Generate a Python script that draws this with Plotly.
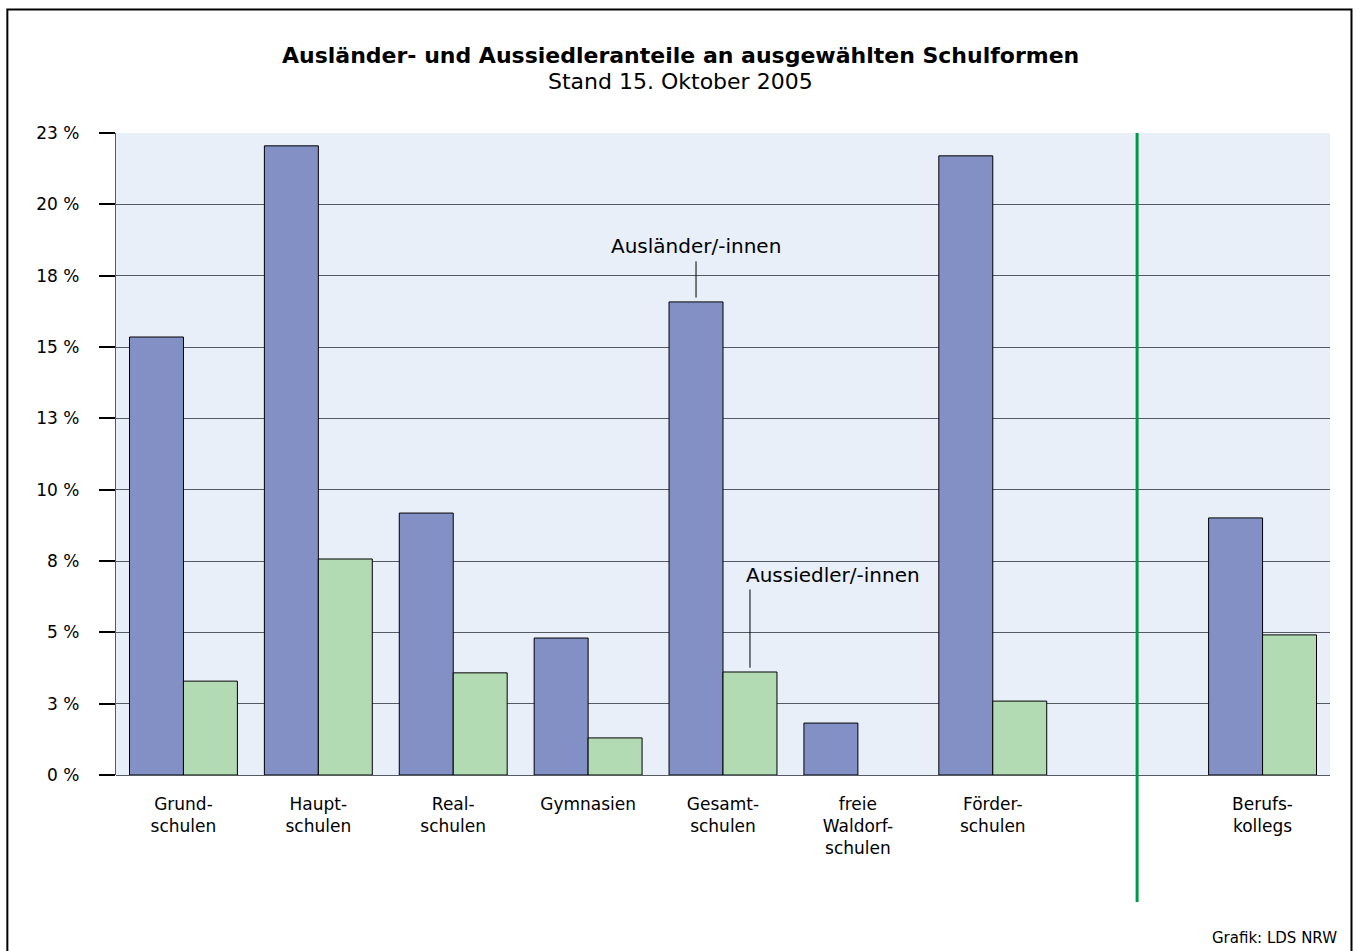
import plotly.graph_objects as go

# ---- data ----
categories = ["Grund-<br>schulen", "Haupt-<br>schulen", "Real-<br>schulen", "Gymnasien",
              "Gesamt-<br>schulen", "freie<br>Waldorf-<br>schulen", "Förder-<br>schulen", " ",
              "Berufs-<br>kollegs"]
auslaender = [15.35, 22.05, 9.18, 4.80, 16.58, 1.82, 21.70, None, 9.01]
aussiedler = [3.29, 7.57, 3.58, 1.30, 3.61, None, 2.59, None, 4.91]
tick_vals = [0, 2.5, 5, 7.5, 10, 12.5, 15, 17.5, 20, 22.5]
tick_text = ["0 %", "3 %", "5 %", "8 %", "10 %", "13 %", "15 %", "18 %", "20 %", "23 %"]

FONT = "DejaVu Sans"
BLUE = "#8290c6"
GREEN = "#b3dbb3"

fig = go.Figure()
fig.add_trace(go.Bar(x=categories, y=auslaender, name="Ausländer/-innen",
                     marker=dict(color=BLUE, line=dict(color="black", width=1))))
fig.add_trace(go.Bar(x=categories, y=aussiedler, name="Aussiedler/-innen",
                     marker=dict(color=GREEN, line=dict(color="black", width=1))))

# label positions derived from Gesamtschulen bars (index 4)
gi = 4
fig.add_shape(type="line", xref="x", yref="y", x0=gi - 0.2, x1=gi - 0.2,
              y0=auslaender[gi] + 0.15, y1=18.0, line=dict(color="black", width=1))
fig.add_annotation(x=gi - 0.2, y=18.0, xref="x", yref="y", text="Ausländer/-innen",
                   showarrow=False, yanchor="bottom", xanchor="center", yshift=1,
                   font=dict(family=FONT, size=20, color="black"))
fig.add_shape(type="line", xref="x", yref="y", x0=gi + 0.2, x1=gi + 0.2,
              y0=aussiedler[gi] + 0.15, y1=6.5, line=dict(color="black", width=1))
fig.add_annotation(x=gi + 0.2, y=6.5, xref="x", yref="y", text="Aussiedler/-innen",
                   showarrow=False, yanchor="bottom", xanchor="left", xshift=-6, yshift=1,
                   font=dict(family=FONT, size=20, color="black"))

# green separator line
fig.add_shape(type="line", xref="x", yref="paper", x0=7.07, x1=7.07, y0=-0.198, y1=1.0,
              line=dict(color="#00994a", width=3))

# outer frame
fig.add_shape(type="rect", xref="paper", yref="paper", x0=-0.0895, x1=1.0177,
              y0=-0.30, y1=1.1925, line=dict(color="black", width=2), fillcolor="rgba(0,0,0,0)")

# titles
fig.add_annotation(x=0.4646, y=1.12, xref="paper", yref="paper", xanchor="center", yanchor="middle",
                   text="<b>Ausländer- und Aussiedleranteile an ausgewählten Schulformen</b>",
                   showarrow=False, font=dict(family=FONT, size=22, color="black"))
fig.add_annotation(x=0.4646, y=1.0795, xref="paper", yref="paper", xanchor="center", yanchor="middle",
                   text="Stand 15. Oktober 2005",
                   showarrow=False, font=dict(family=FONT, size=22, color="black"))
fig.add_annotation(x=1.0074, y=-0.254, xref="paper", yref="paper", xanchor="right", yanchor="middle",
                   text="Grafik: LDS NRW", showarrow=False,
                   font=dict(family=FONT, size=15, color="black"))

fig.update_layout(
    width=1361, height=951,
    margin=dict(l=116, r=31, t=133, b=176),
    paper_bgcolor="white", plot_bgcolor="#e8eff9",
    barmode="group", bargap=0.2, bargroupgap=0,
    showlegend=False,
    font=dict(family=FONT, size=17, color="black"),
)
fig.update_xaxes(type="category", range=[-0.5, 8.5], showgrid=False, showline=False,
                 ticks="", ticklabelstandoff=17, tickfont=dict(family=FONT, size=17))
fig.update_yaxes(range=[0, 22.5], tickvals=tick_vals, ticktext=tick_text,
                 showgrid=True, gridcolor="#555a61", gridwidth=1.3,
                 zeroline=True, zerolinecolor="#555a61", zerolinewidth=1.3,
                 showline=True, linecolor="#555a61", linewidth=1.3,
                 ticks="outside", ticklen=16, tickcolor="black", tickwidth=2,
                 ticklabelstandoff=16, tickfont=dict(family=FONT, size=17))

fig.write_html("out.html", config={"displayModeBar": False},
               post_script="document.body.style.margin='0';document.body.style.overflow='hidden';")
